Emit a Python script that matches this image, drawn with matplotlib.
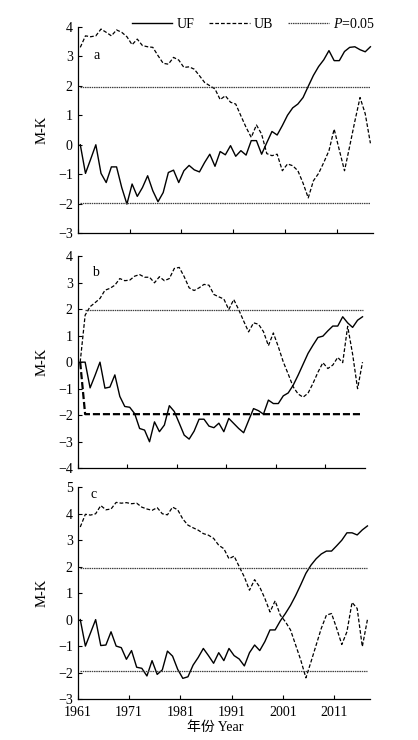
import numpy as np
import matplotlib
matplotlib.use('Agg')
import matplotlib.pyplot as plt

plt.rcParams['font.family'] = ['Liberation Serif', 'Noto Sans CJK SC']
plt.rcParams['mathtext.fontset'] = 'custom'
plt.rcParams['mathtext.rm'] = 'Liberation Serif'
plt.rcParams['mathtext.it'] = 'Liberation Serif:italic'
plt.rcParams['axes.unicode_minus'] = True

# data
years = np.arange(1961, 2018)
years_b = np.arange(1961, 2019)

uf_a = [0, -0.97, -0.49, 0, -0.97, -1.28, -0.75, -0.75, -1.45, -2.01,
        -1.33, -1.75, -1.45, -1.05, -1.56, -1.93, -1.62, -0.94, -0.86, -1.28,
        -0.88, -0.7, -0.85, -0.92, -0.6, -0.32, -0.73, -0.23, -0.34, -0.03,
        -0.39, -0.2, -0.35, 0.14, 0.14, -0.32, 0.07, 0.45, 0.33, 0.65,
        1.0, 1.25, 1.38, 1.6, 1.98, 2.35, 2.65, 2.88, 3.19, 2.85,
        2.85, 3.16, 3.3, 3.32, 3.22, 3.15, 3.32]
ub_a = [3.3, 3.69, 3.66, 3.69, 3.92, 3.81, 3.69, 3.89, 3.81, 3.66,
        3.39, 3.58, 3.36, 3.32, 3.3, 3.02, 2.76, 2.73, 2.96, 2.87,
        2.62, 2.64, 2.56, 2.34, 2.11, 2.0, 1.89, 1.53, 1.66, 1.44,
        1.38, 0.98, 0.59, 0.25, 0.67, 0.36, -0.3, -0.37, -0.32, -0.88,
        -0.65, -0.71, -0.88, -1.3, -1.8, -1.22, -0.97, -0.6, -0.2, 0.53,
        -0.18, -0.88, -0.05, 0.8, 1.6, 1.05, 0.05]

uf_b = [0, 0, -0.97, -0.5, 0, -0.98, -0.94, -0.48, -1.29, -1.67,
        -1.7, -1.94, -2.5, -2.56, -3.0, -2.25, -2.62, -2.37, -1.64, -1.86,
        -2.3, -2.75, -2.9, -2.6, -2.15, -2.15, -2.41, -2.47, -2.3, -2.62,
        -2.12, -2.31, -2.5, -2.66, -2.2, -1.75, -1.83, -1.96, -1.43, -1.56,
        -1.56, -1.27, -1.16, -0.87, -0.49, -0.08, 0.33, 0.64, 0.93, 0.98,
        1.18, 1.36, 1.36, 1.71, 1.48, 1.31, 1.58, 1.71]
ub_b = [0, 1.77, 2.09, 2.24, 2.4, 2.71, 2.78, 2.9, 3.15, 3.07,
        3.09, 3.24, 3.3, 3.2, 3.2, 2.99, 3.22, 3.07, 3.15, 3.53,
        3.57, 3.22, 2.8, 2.7, 2.8, 2.93, 2.9, 2.55, 2.46, 2.38,
        1.98, 2.36, 1.98, 1.55, 1.14, 1.48, 1.43, 1.15, 0.62, 1.1,
        0.58, 0.01, -0.45, -0.93, -1.2, -1.32, -1.17, -0.8, -0.38, -0.02,
        -0.24, -0.11, 0.18, -0.02, 1.35, 0.3, -1.0, 0.0]

uf_c = [0, -1.0, -0.5, 0, -0.98, -0.96, -0.46, -1.0, -1.06, -1.5,
        -1.17, -1.8, -1.84, -2.13, -1.55, -2.07, -1.9, -1.19, -1.38, -1.88,
        -2.22, -2.16, -1.72, -1.43, -1.09, -1.36, -1.65, -1.25, -1.55, -1.09,
        -1.36, -1.49, -1.75, -1.25, -0.96, -1.17, -0.83, -0.39, -0.39, -0.05,
        0.23, 0.54, 0.91, 1.32, 1.75, 2.06, 2.3, 2.48, 2.59, 2.59,
        2.79, 3.0, 3.28, 3.28, 3.2, 3.39, 3.54]
ub_c = [3.5, 3.98, 3.95, 4.0, 4.31, 4.15, 4.18, 4.43, 4.4, 4.42,
        4.38, 4.4, 4.25, 4.18, 4.13, 4.23, 4.0, 3.96, 4.25, 4.15,
        3.8, 3.57, 3.47, 3.38, 3.25, 3.19, 3.07, 2.81, 2.68, 2.3,
        2.4, 2.0, 1.61, 1.11, 1.51, 1.23, 0.8, 0.29, 0.71, 0.17,
        -0.08, -0.39, -0.96, -1.53, -2.2, -1.59, -0.96, -0.33, 0.17, 0.23,
        -0.33, -0.94, -0.46, 0.65, 0.42, -1.02, 0.0]

crit = 1.96
tick_years = [1961, 1971, 1981, 1991, 2001, 2011]

W, H = 418, 740
fig = plt.figure(figsize=(W / 100, H / 100), dpi=100)


def px_axes(left, right, top, bottom):
    return fig.add_axes([left / W, 1 - bottom / H, (right - left) / W, (bottom - top) / H])


ax_a = px_axes(77.7, 373, 26.7, 233.3)
ax_b = px_axes(77.7, 365, 256, 468.3)
ax_c = px_axes(77.7, 370, 487.3, 699)

uf_kw = dict(color='black', lw=1.0, ls='-')
ub_kw = dict(color='black', lw=0.9, ls=(0, (3, 1.6)))
p_kw = dict(color='0.25', lw=0.9, ls=(0, (1.2, 0.6)))

# panel a
h_uf, = ax_a.plot(years, uf_a, label='UF', **uf_kw)
h_ub, = ax_a.plot(years, ub_a, label='UB', **ub_kw)
h_p, = ax_a.plot(years, np.full(len(years), crit), label=r'$\it{P}$=0.05', **p_kw)
ax_a.plot(years, np.full(len(years), -crit), **p_kw)

# panel b
ax_b.plot(years_b, uf_b, **uf_kw)
ax_b.plot(years_b, ub_b, **ub_kw)
p_up_b = np.r_[np.nan, np.full(len(years_b) - 1, crit)]
p_low_b = np.r_[0, np.full(len(years_b) - 1, -crit)]
ax_b.plot(years_b, p_up_b, **p_kw)
ax_b.plot(years_b, p_low_b, color='black', lw=1.6, ls=(0, (3.2, 1.3)))

# panel c
ax_c.plot(years, uf_c, **uf_kw)
ax_c.plot(years, ub_c, **ub_kw)
ax_c.plot(years, np.full(len(years), crit), **p_kw)
ax_c.plot(years, np.full(len(years), -crit), **p_kw)

panels = [(ax_a, (-3, 4), 2017.5, 'a', (1964.2, 3.04)),
          (ax_b, (-4, 4), 2018.5, 'b', (1964.1, 3.36)),
          (ax_c, (-3, 5), 2017.5, 'c', (1963.5, 4.71))]

for ax, ylim, xmax, letter, pos in panels:
    ax.set_xlim(1960.5, xmax)
    ax.set_ylim(*ylim)
    ax.set_yticks(range(ylim[0], ylim[1] + 1))
    ax.set_xticks([t - 0.5 for t in tick_years])
    ax.set_xticklabels([str(t) for t in tick_years])
    for s in ['top', 'right']:
        ax.spines[s].set_visible(False)
    for s in ['left', 'bottom']:
        ax.spines[s].set_linewidth(0.9)
    ax.tick_params(direction='in', length=3, width=0.8, labelsize=10, pad=3.5)
    ax.tick_params(axis='x', pad=5)
    ax.set_ylabel('M-K', fontsize=10.5)
    w_px = ax.get_position().width * W
    ax.yaxis.set_label_coords((49 - 77.7) / w_px, 0.5)
    ax.text(pos[0], pos[1], letter, fontsize=10, ha='center', va='center')

ax_a.tick_params(labelbottom=False)
ax_b.tick_params(labelbottom=False)

ax_c.set_xlabel('年份 Year', fontsize=10)
ax_c.xaxis.set_label_coords((215 - 77.7) / 292.3, -(721 - 699) / 211.7)

fig.legend([h_uf, h_ub, h_p], ['UF', 'UB', r'$\it{P}$=0.05'],
           loc='center right', bbox_to_anchor=(375 / W, 1 - 24 / H),
           ncol=3, frameon=False, fontsize=10, handlelength=2.9,
           handletextpad=0.3, columnspacing=1.1, borderaxespad=0, borderpad=0)

fig.savefig('out.png', dpi=100)
